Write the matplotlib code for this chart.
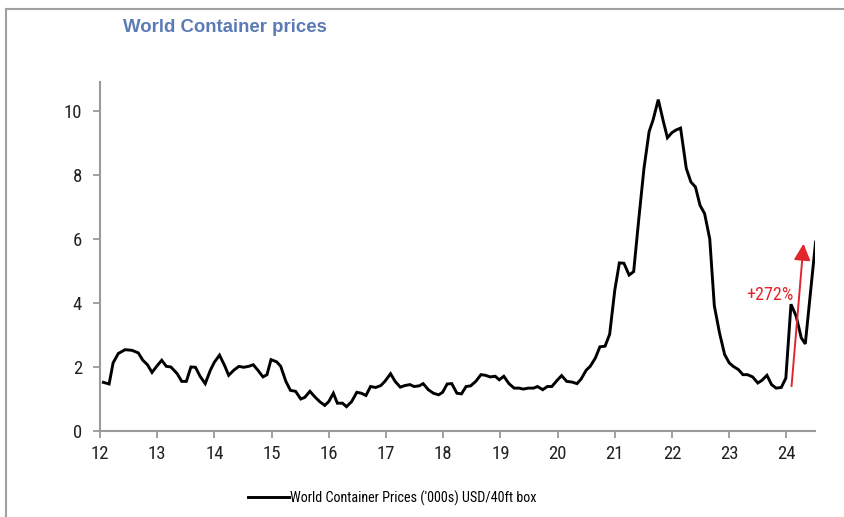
import matplotlib
matplotlib.use("Agg")
import matplotlib.pyplot as plt
from matplotlib import font_manager
from matplotlib.font_manager import FontProperties
from matplotlib.lines import Line2D

# decimal year (20xx) and price in '000 USD per 40ft box
years = [
    12.06, 12.16, 12.23, 12.32, 12.44, 12.56, 12.67, 12.75, 12.83, 12.91,
    13.00, 13.08, 13.16, 13.24, 13.35, 13.43, 13.51, 13.59, 13.67, 13.75,
    13.84, 13.93, 14.00, 14.09, 14.18, 14.25, 14.34, 14.43, 14.51, 14.60,
    14.68, 14.76, 14.85, 14.92, 14.99, 15.09, 15.16, 15.25, 15.33, 15.42,
    15.51, 15.58, 15.67, 15.75, 15.84, 15.93, 16.00, 16.08, 16.15, 16.24,
    16.31, 16.40, 16.49, 16.57, 16.65, 16.73, 16.82, 16.91, 16.98, 17.08,
    17.16, 17.25, 17.33, 17.42, 17.49, 17.58, 17.65, 17.74, 17.83, 17.92,
    17.99, 18.07, 18.15, 18.24, 18.32, 18.40, 18.48, 18.57, 18.66, 18.74,
    18.82, 18.91, 18.98, 19.06, 19.15, 19.24, 19.33, 19.40, 19.49, 19.58,
    19.65, 19.74, 19.82, 19.90, 19.99, 20.07, 20.16, 20.25, 20.34, 20.41,
    20.50, 20.57, 20.66, 20.74, 20.83, 20.91, 21.00, 21.08, 21.16, 21.25,
    21.33, 21.42, 21.51, 21.60, 21.67, 21.76, 21.85, 21.92, 22.00, 22.07,
    22.15, 22.25, 22.33, 22.41, 22.49, 22.57, 22.66, 22.74, 22.83, 22.92,
    23.00, 23.07, 23.16, 23.24, 23.32, 23.41, 23.50, 23.57, 23.66, 23.74,
    23.82, 23.91, 23.99, 24.08, 24.17, 24.26, 24.33, 24.51,
]
prices = [
    1.52, 1.47, 2.13, 2.42, 2.54, 2.52, 2.44, 2.21, 2.07, 1.83,
    2.04, 2.21, 2.02, 2.00, 1.79, 1.55, 1.55, 2.00, 1.99, 1.71,
    1.48, 1.90, 2.15, 2.37, 2.04, 1.74, 1.90, 2.02, 1.99, 2.02,
    2.07, 1.90, 1.69, 1.76, 2.23, 2.16, 2.02, 1.55, 1.27, 1.24,
    1.00, 1.05, 1.24, 1.08, 0.92, 0.80, 0.92, 1.18, 0.87, 0.87,
    0.76, 0.92, 1.21, 1.18, 1.11, 1.39, 1.36, 1.42, 1.55, 1.79,
    1.55, 1.37, 1.42, 1.45, 1.39, 1.41, 1.48, 1.29, 1.18, 1.13,
    1.21, 1.47, 1.48, 1.18, 1.16, 1.39, 1.41, 1.55, 1.76, 1.74,
    1.69, 1.71, 1.60, 1.71, 1.48, 1.34, 1.34, 1.31, 1.34, 1.34,
    1.39, 1.29, 1.39, 1.39, 1.58, 1.73, 1.55, 1.53, 1.48, 1.62,
    1.90, 2.02, 2.28, 2.63, 2.65, 3.02, 4.40, 5.25, 5.24, 4.87,
    4.98, 6.63, 8.20, 9.35, 9.72, 10.35, 9.66, 9.16, 9.32, 9.40,
    9.46, 8.20, 7.78, 7.62, 7.05, 6.79, 6.00, 3.91, 3.07, 2.39,
    2.13, 2.02, 1.92, 1.76, 1.76, 1.69, 1.50, 1.58, 1.74, 1.45,
    1.34, 1.36, 1.65, 3.96, 3.59, 2.91, 2.72, 5.90,
]
x_ticks = list(range(12, 25))
y_ticks = [0, 2, 4, 6, 8, 10]

title = "World Container prices"
series_label = "World Container Prices ('000s) USD/40ft box"
change_label = "+272%"
change_from = (24.09, 1.40)
change_to = (24.30, 5.85)


def narrow_font():
    # the original uses a narrow sans; take one if the box has any
    found = []
    for f in font_manager.fontManager.ttflist:
        if f.style != "normal" or f.weight not in (400, "normal", "regular"):
            continue
        if "Narrow" in f.name or "Condensed" in f.name or \
                str(f.stretch) in ("condensed", "semi-condensed"):
            found.append(f)
    if not found:
        return None, None
    order = ["Liberation Sans Narrow", "Arial Narrow", "Roboto Condensed",
             "DejaVu Sans", "Open Sans Condensed"]
    found.sort(key=lambda f: order.index(f.name) if f.name in order else 99)
    return found[0].fname, found[0].name


fname, fam = narrow_font()
if fname:
    def fp(size):
        return FontProperties(fname=fname, size=size)
    tick_size, leg_size, note_size = 13.5, 10.2, 13
else:
    def fp(size):
        return FontProperties(family=["Liberation Sans", "DejaVu Sans"], size=size)
    tick_size, leg_size, note_size = 12, 9.5, 11

axis_grey = "#9a9a9a"
red = "#e0262b"

fig = plt.figure(figsize=(8.45, 5.17), dpi=100)
ax = fig.add_axes([0.1183, 0.1663, 0.8462, 0.6751])

ax.plot(years, prices, color="black", lw=2.1, solid_joinstyle="miter",
        label=series_label)

ax.set_xlim(12, 24.5)
ax.set_ylim(0, 10.9)
ax.set_xticks(x_ticks)
ax.set_yticks(y_ticks)
for s in ["top", "right"]:
    ax.spines[s].set_visible(False)
for s in ["left", "bottom"]:
    ax.spines[s].set_color(axis_grey)
    ax.spines[s].set_linewidth(1.5)
ax.tick_params(axis="both", colors=axis_grey, width=1.3, length=5,
               labelcolor="#222222")
ax.tick_params(axis="x", pad=5)
ax.tick_params(axis="y", pad=8)
for lab in ax.get_xticklabels() + ax.get_yticklabels():
    lab.set_fontproperties(fp(tick_size))

# red arrow showing the recent jump
ax.annotate("", xy=change_to, xytext=change_from,
            arrowprops=dict(arrowstyle="-|>,head_length=1.0,head_width=0.5",
                            color=red, lw=1.4, shrinkA=0, shrinkB=0))
ax.text(24.12, 4.25, change_label, color=red, fontproperties=fp(note_size),
        ha="right", va="center")

fig.text(123 / 845, 1 - 28 / 517, title, color="#5a7bb6", fontsize=13.4,
         fontweight="bold", family=["Liberation Sans", "DejaVu Sans"],
         ha="left", va="center")

fig.legend(loc="center", bbox_to_anchor=(392 / 845, 1 - 498 / 517),
           frameon=False, prop=fp(leg_size), handlelength=2.9,
           handletextpad=0.05)

# grey frame at the top and left of the picture
fig.add_artist(Line2D([6 / 845, 1], [1 - 9 / 517] * 2, color="#a0a0a0", lw=1.5))
fig.add_artist(Line2D([6 / 845] * 2, [0, 1 - 9 / 517], color="#a0a0a0", lw=1.5))

fig.savefig("out.png", dpi=100)
